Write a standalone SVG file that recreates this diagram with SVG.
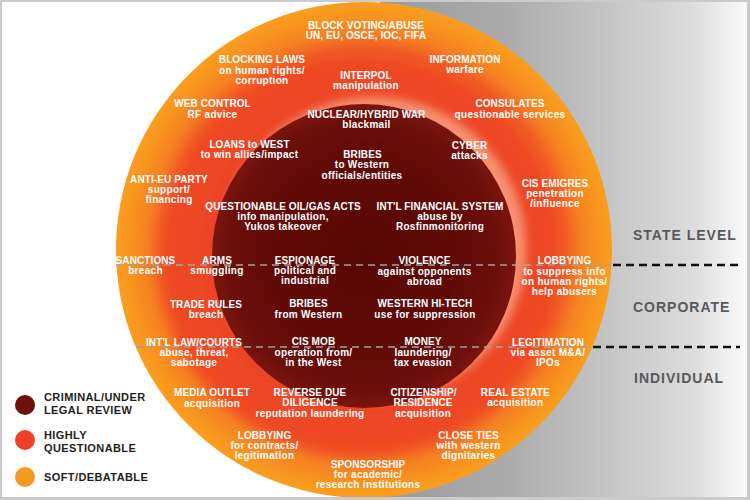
<svg xmlns="http://www.w3.org/2000/svg" width="750" height="500" viewBox="0 0 750 500">
<defs>
<linearGradient id="gBg" x1="380" y1="0" x2="747" y2="0" gradientUnits="userSpaceOnUse">
<stop offset="0" stop-color="#9a9a9a"/>
<stop offset="0.35" stop-color="#acacac"/>
<stop offset="0.6" stop-color="#c3c3c3"/>
<stop offset="0.85" stop-color="#dcdcdc"/>
<stop offset="1" stop-color="#fbfbfb"/>
</linearGradient>
<radialGradient id="gOrange" cx="364" cy="250" r="248" gradientUnits="userSpaceOnUse">
<stop offset="0" stop-color="#ee4a24"/>
<stop offset="0.8" stop-color="#f05325"/>
<stop offset="0.87" stop-color="#f57d22"/>
<stop offset="0.94" stop-color="#f7931f"/>
<stop offset="1" stop-color="#f99e1f"/>
</radialGradient>
<radialGradient id="gRed" cx="361" cy="254" r="204" gradientUnits="userSpaceOnUse">
<stop offset="0" stop-color="#e8402a"/>
<stop offset="0.72" stop-color="#e9432a"/>
<stop offset="0.8" stop-color="#ec4626"/>
<stop offset="0.95" stop-color="#ee4824"/>
<stop offset="1" stop-color="#f26224"/>
</radialGradient>
<radialGradient id="gDark" cx="364" cy="256" r="152" gradientUnits="userSpaceOnUse">
<stop offset="0" stop-color="#580705"/>
<stop offset="0.6" stop-color="#600a07"/>
<stop offset="0.9" stop-color="#6d0f0a"/>
<stop offset="1" stop-color="#7a150d"/>
</radialGradient>
<filter id="soft" x="-10%" y="-10%" width="120%" height="120%">
<feGaussianBlur stdDeviation="3"/>
</filter>
<filter id="glow" x="-20%" y="-20%" width="140%" height="140%">
<feGaussianBlur stdDeviation="5"/>
</filter>
<style>
.w{font-family:"Liberation Sans",Arial,sans-serif;font-weight:bold;font-size:10px;fill:#fff;text-anchor:middle}
.w .s{letter-spacing:0.3px}
.w .h{letter-spacing:0.1px}
.side{font-family:"Liberation Sans",Arial,sans-serif;font-weight:bold;font-size:14px;fill:#58595b;letter-spacing:1px}
.leg{font-family:"Liberation Sans",Arial,sans-serif;font-weight:bold;font-size:11px;fill:#231f20;letter-spacing:0.4px}
.gd{stroke:#a3a3a3;stroke-width:1.5;stroke-dasharray:7 5;fill:none}
.bd{stroke:#111;stroke-width:2.5;stroke-dasharray:8 5;fill:none}
</style>
</defs>
<rect width="750" height="500" fill="#ffffff"/>
<rect x="380" y="0" width="367" height="500" fill="url(#gBg)"/>
<g id="rings">
<circle id="ring-soft" cx="364" cy="250" r="248" fill="url(#gOrange)"/>
<circle id="ring-highly" cx="361" cy="254" r="203" fill="url(#gRed)" filter="url(#soft)"/>
<circle cx="374" cy="249" r="152" fill="#ffc4a4" opacity="0.6" filter="url(#glow)"/>
<circle id="ring-criminal" cx="364" cy="256" r="152" fill="url(#gDark)"/>
</g>
<g id="connectors">
<line class="gd" x1="116" y1="265" x2="611" y2="265"/>
<line class="bd" x1="613" y1="265" x2="740" y2="265"/>
<line class="gd" x1="136" y1="347" x2="591" y2="347"/>
<line class="bd" x1="593" y1="347" x2="740" y2="347"/>
</g>
<g id="levels">
<text class="side" x="633" y="240">STATE LEVEL</text>
<text class="side" x="633" y="312">CORPORATE</text>
<text class="side" x="634" y="383">INDIVIDUAL</text>
</g>
<g id="legend">
<circle cx="25" cy="405" r="10" fill="#6d0f0b"/>
<circle cx="25" cy="440" r="10" fill="#ee4125"/>
<circle cx="25" cy="477" r="10" fill="#f39a25"/>
<text class="leg" x="44" y="401">CRIMINAL/UNDER</text>
<text class="leg" x="44" y="414">LEGAL REVIEW</text>
<text class="leg" x="44" y="439">HIGHLY</text>
<text class="leg" x="44" y="452">QUESTIONABLE</text>
<text class="leg" x="44" y="481">SOFT/DEBATABLE</text>
</g>
<g id="block-voting"><text class="w"><tspan class="h" x="366" y="29.3">BLOCK VOTING/ABUSE</tspan><tspan class="h" x="366" y="39.3">UN, EU, OSCE, IOC, FIFA</tspan></text></g>
<g id="blocking-laws"><text class="w"><tspan class="h" x="262" y="63">BLOCKING LAWS</tspan><tspan class="s" x="262" y="73.5">on human rights/</tspan><tspan class="s" x="262" y="83.5">corruption</tspan></text></g>
<g id="information"><text class="w"><tspan class="h" x="465" y="63">INFORMATION</tspan><tspan class="s" x="465" y="73">warfare</tspan></text></g>
<g id="interpol"><text class="w"><tspan class="h" x="366" y="78.6">INTERPOL</tspan><tspan class="s" x="366" y="88.6">manipulation</tspan></text></g>
<g id="web-control"><text class="w"><tspan class="h" x="212.5" y="107.3">WEB CONTROL</tspan><tspan class="s" x="212.5" y="117.6">RF advice</tspan></text></g>
<g id="consulates"><text class="w"><tspan class="h" x="510" y="107.3">CONSULATES</tspan><tspan class="s" x="510" y="117.6">questionable services</tspan></text></g>
<g id="nuclear"><text class="w"><tspan class="h" x="366.5" y="117.6">NUCLEAR/HYBRID WAR</tspan><tspan class="s" x="366.5" y="127.9">blackmail</tspan></text></g>
<g id="loans"><text class="w"><tspan class="h" x="249.5" y="147.6">LOANS  to WEST</tspan><tspan class="s" x="249.5" y="157.9">to win allies/impact</tspan></text></g>
<g id="bribes-officials"><text class="w"><tspan class="h" x="362.5" y="157.9">BRIBES</tspan><tspan class="s" x="362" y="168.4">to Western</tspan><tspan class="s" x="362" y="178.6">officials/entities</tspan></text></g>
<g id="cyber"><text class="w"><tspan class="h" x="469.5" y="148.6">CYBER</tspan><tspan class="s" x="469.5" y="158.6">attacks</tspan></text></g>
<g id="anti-eu"><text class="w"><tspan class="h" x="169" y="182.6">ANTI-EU PARTY</tspan><tspan class="s" x="169" y="192.9">support/</tspan><tspan class="s" x="169" y="203.3">financing</tspan></text></g>
<g id="cis-emigres"><text class="w"><tspan class="h" x="555" y="186.9">CIS EMIGRES</tspan><tspan class="s" x="555" y="197.3">penetration</tspan><tspan class="s" x="555" y="207.3">/influence</tspan></text></g>
<g id="oil-gas"><text class="w"><tspan class="h" x="283" y="209.6">QUESTIONABLE OIL/GAS ACTS</tspan><tspan class="s" x="283" y="220.3">info manipulation,</tspan><tspan class="s" x="283" y="230.3">Yukos takeover</tspan></text></g>
<g id="intl-financial"><text class="w"><tspan class="h" x="440" y="209.6">INT'L FINANCIAL SYSTEM</tspan><tspan class="s" x="440" y="220.3">abuse by</tspan><tspan class="s" x="440" y="230.3">Rosfinmonitoring</tspan></text></g>
<g id="sanctions"><text class="w"><tspan class="h" x="145.5" y="263.6">SANCTIONS</tspan><tspan class="s" x="145.5" y="274.3">breach</tspan></text></g>
<g id="arms"><text class="w"><tspan class="h" x="217" y="263.6">ARMS</tspan><tspan class="s" x="217" y="274.3">smuggling</tspan></text></g>
<g id="espionage"><text class="w"><tspan class="h" x="305" y="263.6">ESPIONAGE</tspan><tspan class="s" x="305" y="274.3">political and</tspan><tspan class="s" x="305" y="284.3">industrial</tspan></text></g>
<g id="violence"><text class="w"><tspan class="h" x="424.5" y="263.6">VIOLENCE</tspan><tspan class="s" x="424.5" y="274.6">against opponents</tspan><tspan class="s" x="424.5" y="284.6">abroad</tspan></text></g>
<g id="lobbying-suppress"><text class="w"><tspan class="h" x="564.5" y="263.6">LOBBYING</tspan><tspan class="s" x="564.5" y="274.6">to suppress info</tspan><tspan class="s" x="564.5" y="284.9">on human rights/</tspan><tspan class="s" x="564.5" y="295.3">help abusers</tspan></text></g>
<g id="trade-rules"><text class="w"><tspan class="h" x="206" y="307.9">TRADE RULES</tspan><tspan class="s" x="206" y="317.9">breach</tspan></text></g>
<g id="bribes-from-western"><text class="w"><tspan class="h" x="308.5" y="306.9">BRIBES</tspan><tspan class="s" x="308.5" y="317.6">from Western</tspan></text></g>
<g id="western-hitech"><text class="w"><tspan class="h" x="425" y="306.9">WESTERN HI-TECH</tspan><tspan class="s" x="425" y="317.6">use for suppression</tspan></text></g>
<g id="intl-law"><text class="w"><tspan class="h" x="194" y="345.9">INT'L LAW/COURTS</tspan><tspan class="s" x="194" y="356.3">abuse, threat,</tspan><tspan class="s" x="194" y="366.3">sabotage</tspan></text></g>
<g id="cis-mob"><text class="w"><tspan class="h" x="313.5" y="344.6">CIS MOB</tspan><tspan class="s" x="313.5" y="355.9">operation from/</tspan><tspan class="s" x="313.5" y="365.6">in the West</tspan></text></g>
<g id="money"><text class="w"><tspan class="h" x="423" y="344.6">MONEY</tspan><tspan class="s" x="423" y="355.9">laundering/</tspan><tspan class="s" x="423" y="365.6">tax evasion</tspan></text></g>
<g id="legitimation"><text class="w"><tspan class="h" x="548" y="345.9">LEGITIMATION</tspan><tspan class="s" x="548" y="356.3">via asset M&amp;A/</tspan><tspan class="s" x="548" y="366.3">IPOs</tspan></text></g>
<g id="media-outlet"><text class="w"><tspan class="h" x="212" y="395.9">MEDIA OUTLET</tspan><tspan class="s" x="212" y="406.6">acquisition</tspan></text></g>
<g id="reverse-due"><text class="w"><tspan class="h" x="310" y="395.9">REVERSE DUE</tspan><tspan class="h" x="310" y="405.9">DILIGENCE</tspan><tspan class="s" x="310" y="416.6">reputation laundering</tspan></text></g>
<g id="citizenship"><text class="w"><tspan class="h" x="423.5" y="395.9">CITIZENSHIP/</tspan><tspan class="h" x="423" y="406.3">RESIDENCE</tspan><tspan class="s" x="423" y="416.9">acquisition</tspan></text></g>
<g id="real-estate"><text class="w"><tspan class="h" x="515.3" y="395.9">REAL ESTATE</tspan><tspan class="s" x="515.3" y="405.9">acquisition</tspan></text></g>
<g id="lobbying-contracts"><text class="w"><tspan class="h" x="264.5" y="438.6">LOBBYING</tspan><tspan class="s" x="264.5" y="449.3">for contracts/</tspan><tspan class="s" x="264.5" y="459.3">legitimation</tspan></text></g>
<g id="close-ties"><text class="w"><tspan class="h" x="468.5" y="438.6">CLOSE TIES</tspan><tspan class="s" x="468.5" y="449.3">with western</tspan><tspan class="s" x="468.5" y="459.3">dignitaries</tspan></text></g>
<g id="sponsorship"><text class="w"><tspan class="h" x="368" y="467.6">SPONSORSHIP</tspan><tspan class="s" x="368" y="477.9">for academic/</tspan><tspan class="s" x="368" y="488.3">research institutions</tspan></text></g>
<g id="frame" fill="#cbcbcb">
<rect x="0" y="0" width="750" height="2"/>
<rect x="0" y="0" width="2" height="500"/>
<rect x="747" y="0" width="3" height="500"/>
<rect x="0" y="497" width="750" height="3"/>
</g>
</svg>
